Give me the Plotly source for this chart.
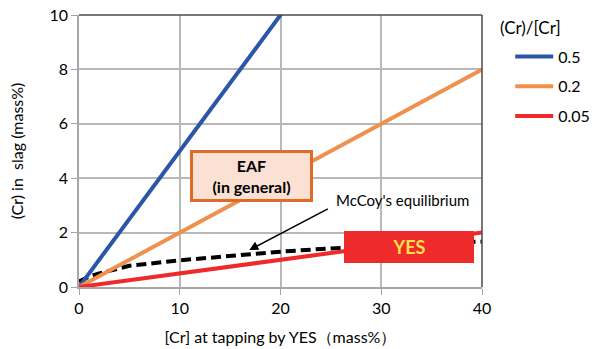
import plotly.graph_objects as go

# Cr in metal at tapping (mass%)
cr_metal = [0, 40]
# (Cr)/[Cr] distribution ratios and their labels
ratios = [0.5, 0.2, 0.05]
ratio_labels = ["0.5", "0.2", "0.05"]
ratio_colors = ["#2b56a8", "#f0904c", "#ee2a2a"]

# McCoy's equilibrium curve: (Cr) in slag vs [Cr]
mccoy_cr = [0, 1, 2, 5, 10, 15, 20, 25, 30, 35, 40]
mccoy_slag = [0.2, 0.38, 0.5, 0.78, 0.98, 1.15, 1.3, 1.42, 1.52, 1.6, 1.67]

FONT = "Lato"

fig = go.Figure()

fig.add_trace(go.Scatter(
    x=mccoy_cr, y=mccoy_slag, mode="lines", showlegend=False,
    line=dict(color="black", width=4, dash="10px,5px"),
))

for r, lab, col in zip(ratios, ratio_labels, ratio_colors):
    fig.add_trace(go.Scatter(
        x=cr_metal, y=[r * v for v in cr_metal], mode="lines", name=lab,
        legendgroup=lab, line=dict(color=col, width=4),
    ))

axis_common = dict(
    showgrid=True, gridcolor="#b8b8b8", gridwidth=1.5,
    showline=True, linecolor="#a6a6a6", linewidth=1.5,
    ticks="outside", ticklen=6, tickcolor="#a6a6a6",
    tickfont=dict(family=FONT, size=16, color="black"),
    zeroline=False,
)

fig.update_xaxes(range=[0, 40], dtick=10, **axis_common,
                 title=dict(text="[Cr] at tapping by YES（mass%）",
                            font=dict(family=FONT, size=16, color="black"),
                            standoff=16))
fig.update_yaxes(range=[0, 10], dtick=2, **axis_common,
                 title=dict(text="(Cr) in  slag (mass%)",
                            font=dict(family=FONT, size=16, color="black"),
                            standoff=22))

# darker frame on top and right edges
fig.add_shape(type="line", xref="paper", yref="paper", x0=0, x1=1, y0=1, y1=1,
              line=dict(color="#4a4a4a", width=1.5))
fig.add_shape(type="line", xref="paper", yref="paper", x0=1, x1=1, y0=0, y1=1,
              line=dict(color="#4a4a4a", width=1.5))

# EAF label box
fig.add_annotation(
    x=17.1, y=4.08, xref="x", yref="y", showarrow=False,
    text="<b>EAF<br>(in general)</b>",
    font=dict(family=FONT, size=16, color="black"),
    bgcolor="#fbe1d3", bordercolor="#e06a28", borderwidth=3, borderpad=2,
    width=113, height=42, align="center",
)

# YES label box
fig.add_annotation(
    x=32.8, y=1.47, xref="x", yref="y", showarrow=False,
    text="<b>YES</b>", font=dict(family=FONT, size=18, color="#f5e04a"),
    bgcolor="#ee2a2a", borderwidth=0, borderpad=2,
    width=126, height=28, align="center",
)

# McCoy's equilibrium pointer
fig.add_annotation(
    x=16.9, y=1.36, xref="x", yref="y", ax=24.85, ay=2.9, axref="x", ayref="y",
    text="", showarrow=True, arrowhead=2, arrowsize=1.2, arrowwidth=1.5,
    arrowcolor="black",
)
fig.add_annotation(
    x=32.1, y=3.2, xref="x", yref="y", showarrow=False,
    text="McCoy's equilibrium", font=dict(family=FONT, size=15, color="black"),
)

# legend heading
fig.add_annotation(
    x=1.04, y=0.955, xref="paper", yref="paper", xanchor="left", yanchor="middle",
    showarrow=False, text="(Cr)/[Cr]", font=dict(family=FONT, size=17, color="black"),
)

fig.update_layout(
    width=605, height=349,
    margin=dict(l=79, r=123, t=15, b=62, autoexpand=False),
    paper_bgcolor="white", plot_bgcolor="white",
    showlegend=True,
    legend=dict(x=1.07, y=0.91, xanchor="left", yanchor="top",
                traceorder="grouped", tracegroupgap=6, itemwidth=38,
                font=dict(family=FONT, size=16, color="black"),
                bgcolor="rgba(0,0,0,0)"),
)

fig.write_html("out.html")
